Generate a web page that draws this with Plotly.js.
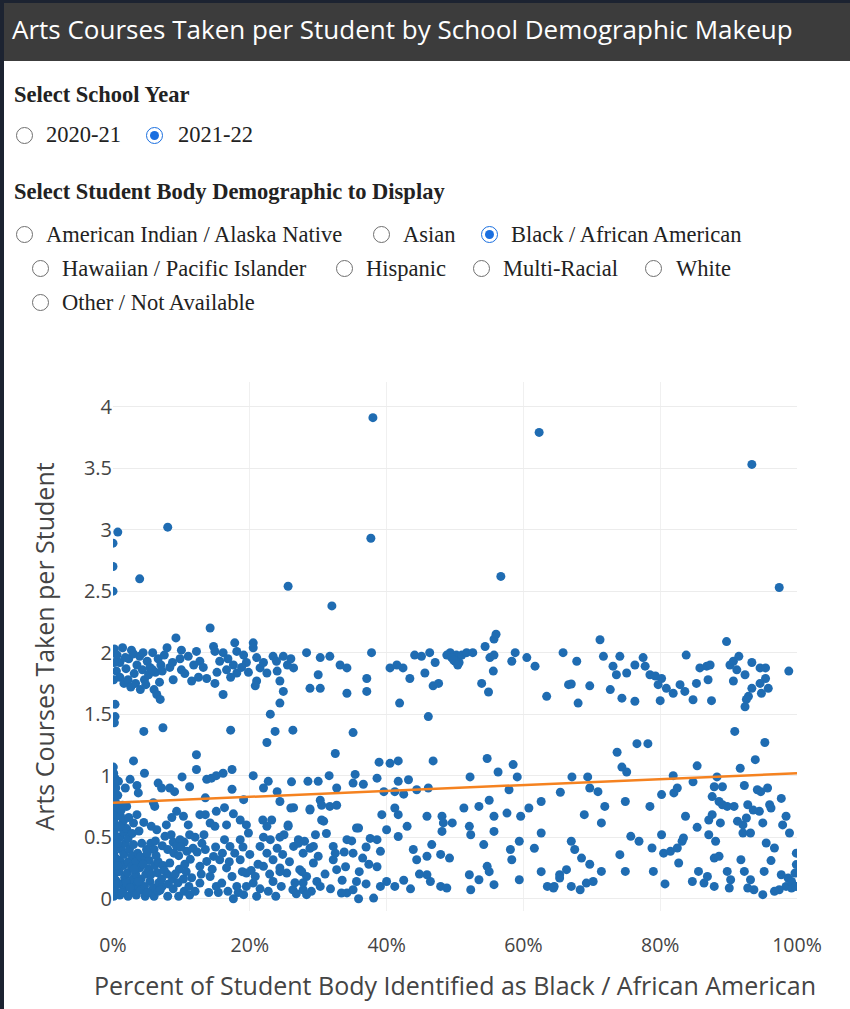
<!DOCTYPE html>
<html>
<head>
<meta charset="utf-8">
<script src="https://cdn.plot.ly/plotly-3.0.1.min.js"></script>
<style>
  html, body { margin:0; padding:0; background:#fff; width:850px; height:1009px; overflow:hidden; }
  #strip { position:absolute; left:0; top:0; width:4px; height:1009px; background:#1c2331; z-index:5; }
  #topstrip { position:absolute; left:0; top:0; width:850px; height:3px; background:#1c2331; z-index:5; }
  #header { position:absolute; left:4px; top:3px; width:846px; height:58px; background:#3c3c3c; }
  #header span { position:absolute; left:8px; top:8px; color:#fff; font-family:"Open Sans", sans-serif; font-size:26px; white-space:nowrap; }
  .lbl { position:absolute; font-family:"Liberation Serif", "Times New Roman", serif; font-size:22.5px; color:#222; white-space:nowrap; line-height:1; }
  .bold { font-weight:bold; }
  .r { position:absolute; width:15px; height:15px; border:1.4px solid #6f6f6f; border-radius:50%; background:#fff; }
  .r.on { border-color:#1a6fe0; }
  .r.on::after { content:""; position:absolute; left:3px; top:3px; width:9px; height:9px; border-radius:50%; background:#1a6fe0; }
  #plot { position:absolute; left:0; top:330px; width:850px; height:679px; }
</style>
</head>
<body>
<div id="strip"></div>
<div id="topstrip"></div>
<div id="header"><span>Arts Courses Taken per Student by School Demographic Makeup</span></div>
<div id="controls"></div>
<div id="plot"></div>
<script>
// ---------- control texts ----------
const yearTitle = "Select School Year";
const yearOptions = ["2020-21", "2021-22"];
const selectedYear = "2021-22";
const demoTitle = "Select Student Body Demographic to Display";
const demoOptions = ["American Indian / Alaska Native", "Asian", "Black / African American",
  "Hawaiian / Pacific Islander", "Hispanic", "Multi-Racial", "White", "Other / Not Available"];
const selectedDemo = "Black / African American";

// ---------- chart texts ----------
const xTitle = "Percent of Student Body Identified as Black / African American";
const yTitle = "Arts Courses Taken per Student";

// ---------- data: x = percent of student body, y = arts courses per student ----------
const outlierX = [0.0, 0.0, 0.0, 0.7, 3.9, 8.0, 25.6, 32.0, 37.7, 38.0, 56.7, 62.3, 93.4, 97.4];
const outlierY = [2.7, 2.89, 2.5, 2.98, 2.6, 3.02, 2.54, 2.38, 2.93, 3.91, 2.62, 3.79, 3.53, 2.53];

const upperX = [0.2,0.6,1.0,1.4,1.9,2.3,2.7,3.1,3.5,3.9,4.3,4.6,5.0,5.4,5.8,6.2,6.6,7.0,7.5,7.9,0.5,1.0,1.6,2.2,2.6,3.3,4.0,4.8,6.0,6.8,0.2,1.8,3.0,4.4,5.2,7.2,8.3,8.7,5.8,6.4,6.9,0.1,
  9.2,14.2,10.0,12.2,11.0,12.7,14.7,14.9,16.1,15.6,17.8,18.1,20.5,20.5,19.1,17.6,16.6,18.1,19.5,10.0,10.5,11.5,13.7,14.9,16.1,21.0,21.5,23.4,24.9,23.9,26.4,22.5,21.0,20.8,24.4,24.9,24.4,23.0,9.8,11.8,13.2,15.2,16.8,18.8,19.8,12.5,8.8,17.2,22.0,24.0,25.5,26.0,
  28.3,30.3,31.7,30.0,28.8,30.3,33.2,34.2,34.2,37.1,37.1,37.8,40.5,41.5,42.4,43.4,41.9,44.1,46.3,45.1,47.1,45.6,46.8,47.6,46.1,49.3,50.2,
  48.8,49.5,50.0,50.6,51.0,51.7,49.8,50.4,52.6,54.4,55.7,56.0,55.1,55.7,55.6,53.9,54.9,58.3,58.8,60.5,61.7,63.4,65.8,67.8,66.6,67.0,68.0,69.7,71.2,71.7,74.1,73.1,73.6,75.1,72.7,74.4,76.3,76.3,77.5,77.8,78.5,79.3,80.2,79.7,80.9,81.9,80.0,82.9,83.6,84.8,83.8,85.3,85.8,86.8,87.3,87.0,87.5,89.7,90.2,90.7,91.2,91.5,90.7,92.4,93.4,94.6,95.4,95.4,94.6,95.8,94.8,93.4,92.9,92.4,92.6,98.8];
const upperY = [2.03,1.98,1.92,2.04,1.87,1.95,2.02,1.83,1.9,1.97,1.86,1.78,1.93,1.88,2.0,1.84,1.95,1.9,1.98,2.04,1.85,1.8,1.75,1.78,1.72,1.75,1.7,1.74,1.7,1.76,1.92,1.96,1.99,2.0,1.82,1.85,1.88,1.92,1.86,1.66,1.62,1.78,
  2.12,2.2,2.02,2.01,1.97,1.93,2.05,2.01,2.0,1.93,2.08,2.01,2.08,2.04,1.98,1.9,1.86,1.835,1.92,1.86,1.83,1.77,1.79,1.75,1.66,1.96,1.876,1.97,1.97,1.93,1.876,1.835,1.77,1.73,1.77,1.685,1.59,1.5,1.95,1.9,1.88,1.84,1.95,1.88,1.84,1.8,1.78,1.8,1.92,1.85,1.9,1.95,
  2.0,1.96,1.97,1.82,1.71,1.71,1.9,1.876,1.67,1.79,1.685,2.0,1.876,1.9,1.876,1.79,1.59,1.98,2.0,1.97,1.92,1.835,1.73,1.75,1.48,2.0,1.98,
  1.98,1.96,1.93,1.92,1.98,2.0,1.94,1.9,2.0,2.05,2.11,2.15,1.96,1.98,1.85,1.75,1.68,1.93,2.0,1.96,1.89,1.645,2.0,1.93,1.74,1.745,1.59,1.73,2.105,1.97,1.97,1.89,1.82,1.835,1.7,1.63,1.605,1.9,1.96,1.89,1.82,1.81,1.79,1.74,1.71,1.67,1.61,1.74,1.685,1.617,1.98,1.75,1.876,1.89,1.9,1.78,1.61,2.09,1.9,1.93,1.86,1.97,1.77,1.82,1.92,1.876,1.876,1.79,1.75,1.71,1.67,1.71,1.645,1.56,1.62,1.85];

const midX = [0.3,0.3,0.2,4.5,7.3,17.2,23.7,22.5,26.3,35.1,32.5,38.9,40.5,41.7,46.8,54.7,56.3,58.5,59.1,52.2,90.9,95.3,93.9,91.7,85.4,76.6,78.2,73.7,74.4,75.1,67.1,69.4,81.9,84.8,88.3,
  12.2,3.0,0.05,12.2,4.6,10.1,17.4,16.1,13.7,14.4,15.1,20.5,22.7,26.1,28.5,30.0,31.6,35.4,0.3,0.8,1.8,2.5,3.5,3.7,6.6,7.1,8.3,9.0,11.2,13.5,17.4,19.1,22.0,24.0,24.4,32.7,35.1,
  36.6,38.6,41.7,43.2,30.3,39.6,41.2,42.5,44.4,46.1,57.9,55.0,62.6];
const midY = [1.58,1.48,1.43,1.36,1.39,1.37,1.36,1.27,1.37,1.35,1.18,1.11,1.1,1.12,1.12,1.14,1.03,1.09,0.99,0.99,1.36,1.27,1.13,1.06,1.08,1.26,1.26,1.19,1.07,1.03,0.99,0.99,1.0,0.95,0.99,
  1.17,1.12,1.07,1.05,1.02,0.99,1.05,1.02,0.97,0.98,1.0,1.0,0.954,0.95,0.954,0.954,1.0,1.01,0.98,0.954,0.9,0.97,0.92,0.86,0.94,0.9,0.9,0.87,0.91,0.82,0.89,0.805,0.9,0.87,0.79,0.9,0.94,
  0.93,0.98,0.954,0.967,0.8,0.87,0.87,0.85,0.886,0.9,0.886,0.8,0.79];

const lowLeftX = [0.1,0.1,0.1,0.1,0.1,0.1,0.1,0.1,0.1,0.1,0.1,
  0.4,0.4,0.4,0.4,0.4,0.4,0.4,0.4,0.4,0.4,
  1.0,1.1,0.9,1.0,1.2,1.0,0.9,1.1,
  1.6,1.7,1.5,1.6,1.8,1.6,1.5,
  2.2,2.3,2.1,2.2,2.4,2.2,2.0,
  2.8,2.9,2.7,2.8,3.0,2.8,
  3.4,3.5,3.3,3.4,3.6,
  4.0,4.1,3.9,4.0,4.2,
  4.7,4.6,4.8,4.7,4.9,
  5.3,5.4,5.2,5.3,5.5,
  6.0,5.9,6.1,6.0,6.2,
  6.6,6.7,6.5,6.6,
  7.2,7.1,7.3,7.2,
  8.0,8.1,7.9,8.0,
  8.8,8.7,8.9,8.8,
  9.6,9.5,9.7,9.6,
  10.4,10.3,10.5,10.4,
  11.2,11.1,11.3,11.2,
  7.6,8.5,9.8,9.3,10.8,11.7,0.3,0.6,1.2,2.0,6.1,5.9,9.3,10.3,3.5,3.0,5.6,1.0];
const lowLeftY = [0.02,0.1,0.19,0.28,0.37,0.46,0.55,0.64,0.73,0.84,1.02,
  0.06,0.15,0.24,0.33,0.42,0.51,0.6,0.69,0.78,0.9,
  0.03,0.12,0.22,0.31,0.4,0.5,0.58,0.67,
  0.08,0.17,0.27,0.36,0.45,0.54,0.63,
  0.02,0.12,0.21,0.3,0.4,0.49,0.57,
  0.07,0.16,0.26,0.35,0.44,0.53,
  0.03,0.11,0.2,0.3,0.37,
  0.07,0.16,0.25,0.34,0.45,
  0.02,0.1,0.2,0.33,0.4,
  0.05,0.14,0.24,0.31,0.45,
  0.02,0.09,0.27,0.4,0.47,
  0.06,0.13,0.21,0.3,
  0.1,0.16,0.27,0.43,
  0.02,0.12,0.2,0.4,
  0.08,0.16,0.37,0.46,
  0.02,0.13,0.24,0.35,
  0.06,0.16,0.28,0.46,
  0.03,0.1,0.32,0.52,
  0.507,0.52,0.48,0.425,0.385,0.41,0.78,0.74,0.72,0.75,0.75,0.78,0.71,0.67,0.683,0.615,0.588,0.588];

const lowExtraX = [1.3,1.9,2.5,3.1,3.7,4.4,5.0,5.6,6.3,6.9,7.5,8.3,9.1,9.9,10.7,11.5,12.0,12.9,13.5,14.5,15.4,16.0,17.0,18.3,19.0,20.2,21.5,22.0,23.8,24.8,25.8,26.8,29.0,29.6,31.0,31.8,33.5,33.8,36.0,37.0,3.8,4.5,6.4,7.8,8.6,11.0,12.0,2.3,1.4,0.7,0.2,5.0,0.7,0.7,0.7];
const lowExtraY = [0.05,0.13,0.09,0.24,0.14,0.28,0.37,0.2,0.35,0.07,0.23,0.29,0.2,0.42,0.22,0.17,0.06,0.2,0.4,0.24,0.05,0.37,0.3,0.05,0.42,0.23,0.08,0.5,0.02,0.36,0.3,0.04,0.06,0.52,0.2,0.08,0.15,0.38,0.22,0.42,0.55,0.62,0.56,0.6,0.66,0.6,0.5,0.66,0.76,0.84,0.95,0.05,0.45,0.27,0.12];

const lowMidX = [12.7,13.7,14.7,12.7,14.2,15.1,16.3,17.1,18.6,19.8,17.8,15.6,16.6,18.6,19.5,17.4,15.9,18.1,20.5,21.0,17.6,19.1,21.5,22.5,23.0,23.4,22.0,24.4,23.4,24.6,22.7,13.0,14.0,16.8,20.0,21.2,13.3,20.8,12.3,15.0,18.9,22.9,24.0,25.0,19.5,
  12.7,13.5,15.1,16.3,17.6,14.2,14.9,16.6,18.6,19.5,21.9,23.2,22.5,25.6,26.4,28.8,30.5,31.7,32.7,30.5,31.2,35.6,
  25.4,26.4,27.1,27.8,28.8,29.3,27.3,28.3,29.8,27.8,30.3,32.2,32.7,32.2,34.2,35.1,34.2,35.1,35.6,
  26.0,28.8,25.6,24.4,30.8,35.9,34.9,37.6,38.6,39.1,37.4,38.6,27.1,28.0,29.3,30.0,27.6,27.8,26.3,28.3,32.5,33.4,35.9,38.1,39.1,40.0,41.2,24.4,26.6,
  41.2,41.7,43.0,39.3,40.0,41.7,43.9,44.4,45.9,46.6,48.1,48.3,49.6,47.9,49.2,45.9,46.4,47.9,48.8,45.9,48.1,51.3,52.1,52.3,53.5,55.7,55.7,54.2,54.7,55.0,52.1,52.3,53.5,55.7,57.6,59.6,59.4,58.1,58.3,60.8,62.6,61.6,59.4,62.6,63.5,64.5,65.3,42.5,43.5,44.8,36.5,37.0,34.0];
const lowMidY = [0.263,0.303,0.344,0.127,0.18,0.1,0.48,0.425,0.48,0.534,0.37,0.317,0.25,0.317,0.208,0.18,0.127,0.1,0.127,0.02,0.0,0.033,0.425,0.37,0.48,0.317,0.263,0.25,0.14,0.1,0.06,0.45,0.05,0.06,0.36,0.28,0.52,0.18,0.38,0.42,0.22,0.2,0.41,0.52,0.1,
  0.683,0.683,0.71,0.74,0.69,0.615,0.588,0.6,0.64,0.6,0.64,0.64,0.588,0.6,0.74,0.72,0.76,0.75,0.76,0.64,0.53,0.575,
  0.208,0.425,0.48,0.37,0.41,0.29,0.236,0.18,0.14,0.073,0.1,0.317,0.236,0.425,0.48,0.37,0.047,0.073,0.14,
  0.737,0.73,0.588,0.5,0.63,0.575,0.47,0.49,0.48,0.385,0.28,0.26,0.45,0.467,0.425,0.345,0.22,0.13,0.073,0.033,0.37,0.046,0.0,0.005,0.1,0.14,0.1,0.22,0.13,
  0.737,0.683,0.588,0.683,0.56,0.506,0.4,0.317,0.345,0.44,0.67,0.616,0.616,0.36,0.33,0.195,0.14,0.1,0.087,0.67,0.547,0.737,0.588,0.52,0.75,0.67,0.547,0.44,0.263,0.22,0.195,0.073,0.154,0.114,0.696,0.67,0.467,0.4,0.317,0.737,0.534,0.41,0.154,0.22,0.1,0.1,0.195,0.15,0.08,0.2,0.33,0.12,0.26];

const lowRightX = [65.4,68.9,71.4,71.9,69.7,70.9,67.0,67.5,68.5,69.7,66.3,65.3,64.4,67.0,68.3,69.2,70.2,71.4,74.1,74.9,74.9,75.7,76.9,78.5,78.8,79.0,80.2,82.0,82.5,80.2,80.5,81.5,82.5,83.2,83.4,82.7,80.7,83.7,85.4,84.7,85.6,86.4,86.9,87.1,88.1,87.9,88.6,87.9,87.1,87.6,87.6,87.9,89.1,88.6,89.1,88.8,89.8,90.8,91.3,92.1,92.1,92.6,92.8,92.3,93.2,94.2,94.7,95.7,94.5,95.0,96.0,96.2,97.7,98.4,97.9,98.9,95.5,96.7,96.2,95.2,99.9,99.9,99.7,97.7,98.7,98.4,97.4,96.7,95.0,93.7,92.8,93.2,91.8,92.3,89.8,90.3,90.1,99.2,99.2,99.8,93.6];
const lowRightY = [0.865,0.683,0.616,0.75,0.9,0.87,0.467,0.4,0.33,0.28,0.236,0.168,0.087,0.1,0.073,0.127,0.14,0.222,0.358,0.222,0.79,0.507,0.467,0.75,0.412,0.222,0.846,0.86,0.9,0.52,0.37,0.385,0.412,0.467,0.494,0.29,0.12,0.67,0.58,0.14,0.222,0.127,0.18,0.52,0.467,0.33,0.345,0.1,0.64,0.683,0.83,0.91,0.91,0.79,0.764,0.616,0.75,0.75,0.63,0.6,0.534,0.656,0.764,0.92,0.534,0.886,0.87,0.9,0.71,0.616,0.764,0.737,0.815,0.67,0.6,0.534,0.453,0.412,0.31,0.222,0.37,0.277,0.208,0.195,0.168,0.1,0.073,0.06,0.033,0.073,0.087,0.154,0.317,0.222,0.222,0.154,0.087,0.087,0.14,0.1,0.72];

// trend line
const trendX = [0, 100];
const trendY = [0.78, 1.02];

// ---------- build controls ----------
const ctr = document.getElementById('controls');
function addLabel(text, x, y, bold) {
  const d = document.createElement('div');
  d.className = 'lbl' + (bold ? ' bold' : '');
  d.textContent = text; d.style.left = x + 'px'; d.style.top = y + 'px';
  ctr.appendChild(d); return d;
}
function addRadio(cx, cy, on) {
  const d = document.createElement('div');
  d.className = 'r' + (on ? ' on' : '');
  d.style.left = (cx - 8) + 'px'; d.style.top = (cy - 8) + 'px';
  ctr.appendChild(d);
}
addLabel(yearTitle, 14, 84, true);
const yearPos = [[24, 46], [154, 178]];
yearOptions.forEach((o, i) => { addRadio(yearPos[i][0], 135, o === selectedYear); addLabel(o, yearPos[i][1], 124, false); });
addLabel(demoTitle, 14, 181, true);
const demoPos = [[24,46,234],[381,403,234],[489,511,234],[40,62,268],[344,366,268],[481,503,268],[653,676,268],[40,62,302]];
demoOptions.forEach((o, i) => { const p = demoPos[i]; addRadio(p[0], p[2], o === selectedDemo); addLabel(o, p[1], p[2] - 10, false); });

// ---------- chart ----------
const allX = [].concat(outlierX, upperX, midX, lowLeftX, lowExtraX, lowMidX, lowRightX);
const allY = [].concat(outlierY, upperY, midY, lowLeftY, lowExtraY, lowMidY, lowRightY);

const traces = [
  { x: allX, y: allY, type: 'scatter', mode: 'markers', marker: { color: '#1f6cb2', size: 9 }, hoverinfo: 'none' },
  { x: trendX, y: trendY, type: 'scatter', mode: 'lines', line: { color: '#f58220', width: 2.5 }, hoverinfo: 'none' }
];
const layout = {
  width: 850, height: 679,
  margin: { l: 113, r: 53, t: 52, b: 98 },
  paper_bgcolor: 'rgba(0,0,0,0)', plot_bgcolor: '#fff',
  showlegend: false,
  font: { family: '"Open Sans", verdana, arial, sans-serif', color: '#444' },
  xaxis: {
    range: [0, 100], dtick: 20, ticksuffix: '%', zeroline: false,
    gridcolor: '#f0f0f0', tickfont: { size: 19.5, color: '#444' },
    ticks: 'outside', ticklen: 17, tickcolor: 'rgba(0,0,0,0)',
    title: { text: xTitle, font: { size: 25, color: '#444' }, standoff: 20 }
  },
  yaxis: {
    range: [-0.1, 4.2], dtick: 0.5, zeroline: false,
    gridcolor: '#ececec', tickfont: { size: 20, color: '#444' },
    title: { text: yTitle, font: { size: 25, color: '#444' }, standoff: 22 }
  }
};
Plotly.newPlot('plot', traces, layout, { displayModeBar: false, staticPlot: true });
</script>
</body>
</html>
